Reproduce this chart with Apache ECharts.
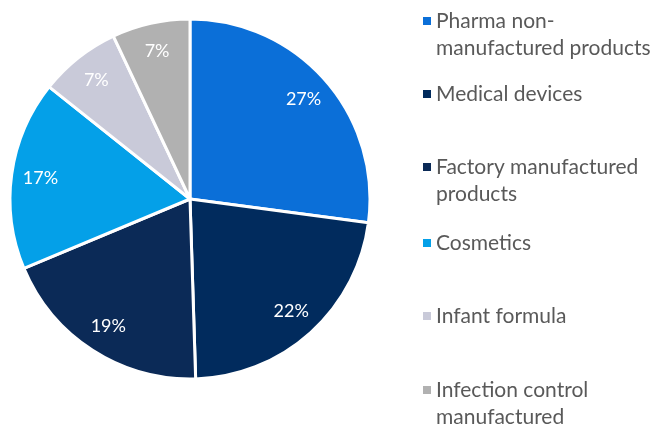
<!DOCTYPE html>
<html>
<head>
<meta charset="utf-8">
<script src="https://cdn.jsdelivr.net/npm/echarts@6/dist/echarts.min.js"></script>
<style>
  html, body { margin: 0; padding: 0; background: #fff; }
  #chart { width: 653px; height: 424px; }
</style>
</head>
<body>
<div id="chart"></div>
<script>
var names = [
    'Pharma non-manufactured products',
    'Medical devices',
    'Factory manufactured products',
    'Cosmetics',
    'Infant formula',
    'Infection control manufactured'
];
var legendText = [
    'Pharma non-\nmanufactured products',
    'Medical devices',
    'Factory manufactured\nproducts',
    'Cosmetics',
    'Infant formula',
    'Infection control\nmanufactured'
];
var shares = [27.1, 22.4, 19.2, 17.0, 7.3, 7.0];
var colors = ['#0b6fd8', '#012b5d', '#0b2a57', '#04a0e8', '#c9cad9', '#b1b1b1'];
var legendLineY = [18, 91, 164, 240, 313, 387];

var chart = echarts.init(document.getElementById('chart'));

var pieData = names.map(function (n, i) {
    return { name: n, value: shares[i], itemStyle: { color: colors[i] } };
});

var fontFamily = 'Lato';
var lineH = 27;

var legends = names.map(function (n, i) {
    var twoLine = legendText[i].indexOf('\n') >= 0;
    var h = twoLine ? lineH * 2 : 8;
    return {
        orient: 'vertical',
        left: 418,
        top: legendLineY[i] - lineH / 2 - 2,
        data: [n],
        itemWidth: 8,
        itemHeight: h,
        icon: twoLine ? 'path://M0,9.5h8v8h-8z M0,0 M8,54' : 'rect',
        symbolKeepAspect: false,
        itemStyle: { borderWidth: 0 },
        selectedMode: false,
        formatter: function () { return legendText[i]; },
        textStyle: {
            fontFamily: fontFamily,
            fontSize: 21,
            color: '#595959',
            lineHeight: lineH
        }
    };
});

var option = {
    animation: false,
    legend: legends,
    series: [
        {
            type: 'pie',
            center: [190, 199],
            radius: [0, 180],
            startAngle: 90,
            clockwise: true,
            itemStyle: { borderColor: '#fff', borderWidth: 3 },
            label: { show: false },
            labelLine: { show: false },
            emphasis: { disabled: true },
            data: pieData
        },
        {
            // label carrier: midpoint of the ring sits at ~148px from centre
            type: 'pie',
            center: [190, 199],
            radius: [116, 180],
            startAngle: 90,
            clockwise: true,
            silent: true,
            legendHoverLink: false,
            itemStyle: { color: 'rgba(0,0,0,0)', borderWidth: 0 },
            label: {
                show: true,
                position: 'inside',
                color: '#fff',
                fontFamily: fontFamily,
                fontSize: 18,
                formatter: function (p) { return Math.round(p.value) + '%'; }
            },
            labelLine: { show: false },
            data: names.map(function (n, i) { return { name: n + ' ', value: shares[i] }; })
        }
    ]
};
chart.setOption(option);
</script>
</body>
</html>
